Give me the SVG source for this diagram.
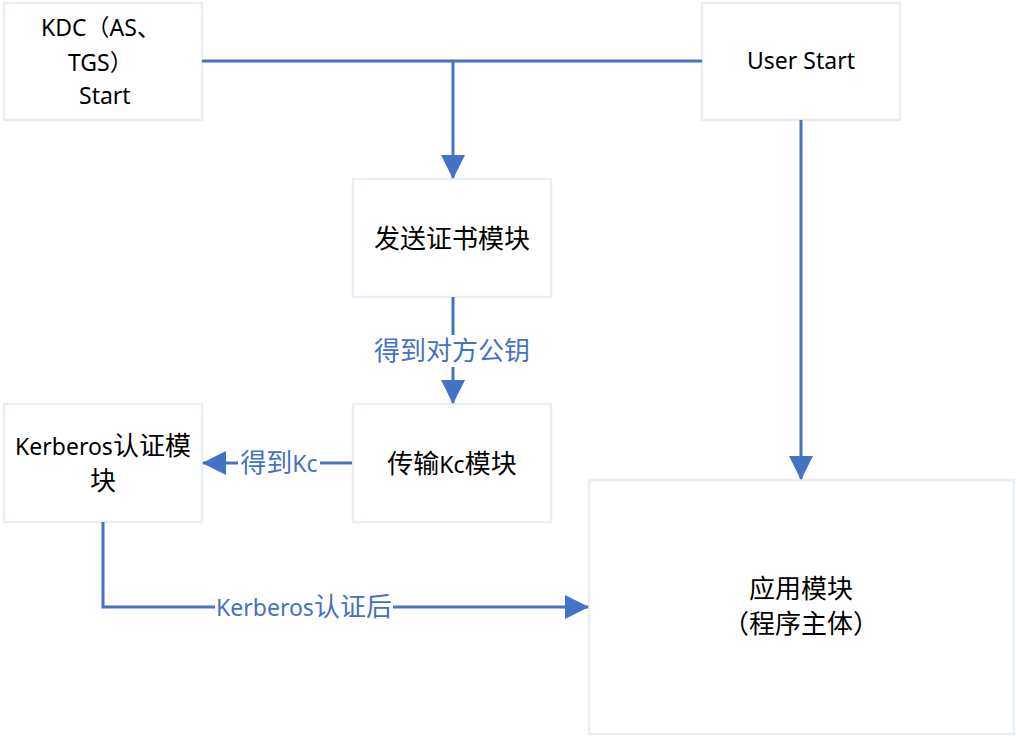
<svg xmlns="http://www.w3.org/2000/svg" width="1016" height="736" viewBox="0 0 1016 736">
<style>
.box{fill:#fff;stroke:#E9EDF6;stroke-width:2.5}
.t{font-family:"Noto Sans","Noto Sans CJK SC",sans-serif;font-size:23px;fill:#000;text-anchor:middle}
.s{text-anchor:start}
.lbl{font-family:"Noto Sans","Noto Sans CJK SC",sans-serif;font-size:23px;fill:#4472C4;text-anchor:middle}
.z{font-family:"Noto Sans CJK SC",sans-serif;font-size:26px}
.c{fill:none;stroke:#4472C4;stroke-width:3}
.bg{fill:#fff}
</style>
<defs>
<marker id="ah" markerUnits="userSpaceOnUse" markerWidth="24" markerHeight="24" viewBox="0 0 24 24" refX="23" refY="12" orient="auto">
<path d="M0,0 L24,12 L0,24 Z" fill="#4472C4"/>
</marker>
</defs>
<rect width="1016" height="736" fill="#fff"/>
<g id="kdc"><rect class="box" x="4" y="3" width="198" height="117"/>
<text class="t s" x="41" y="36">KDC<tspan font-family="Noto Sans CJK SC, sans-serif">（</tspan>AS<tspan font-family="Noto Sans CJK SC, sans-serif">、</tspan></text>
<text class="t s" x="68" y="71">TGS<tspan font-family="Noto Sans CJK SC, sans-serif">）</tspan></text>
<text class="t s" x="79" y="104">Start</text></g>
<g id="user"><rect class="box" x="702" y="3" width="198" height="117"/>
<text class="t" x="801" y="69">User Start</text></g>
<g id="send"><rect class="box" x="353" y="179" width="198" height="118"/>
<text class="t z" x="452" y="248">发送证书模块</text></g>
<g id="kerb"><rect class="box" x="4" y="404" width="198" height="118"/>
<text class="t" x="103" y="455">Kerberos<tspan class="z">认证模</tspan></text>
<text class="t z" x="103" y="490">块</text></g>
<g id="trans"><rect class="box" x="353" y="404" width="198" height="118"/>
<text class="t" x="452" y="473"><tspan class="z">传输</tspan>Kc<tspan class="z">模块</tspan></text></g>
<g id="app"><rect class="box" x="589" y="480" width="425" height="254"/>
<text class="t z" x="801" y="598">应用模块</text>
<text class="t z" x="801" y="633">（程序主体）</text></g>
<g id="connectors">
<path class="c" d="M202,61 H702"/>
<path class="c" d="M453,61 V178" marker-end="url(#ah)"/>
<path class="c" d="M453,297 V403" marker-end="url(#ah)"/>
<rect class="bg" x="372" y="335" width="162" height="32"/>
<text class="lbl z" x="452" y="360">得到对方公钥</text>
<path class="c" d="M352,463 H203" marker-end="url(#ah)"/>
<rect class="bg" x="238" y="448" width="82" height="30"/>
<text class="lbl" x="279" y="472"><tspan class="z">得到</tspan>Kc</text>
<path class="c" d="M103,522 V607 H588" marker-end="url(#ah)"/>
<rect class="bg" x="215" y="592" width="178" height="30"/>
<text class="lbl" x="304" y="616">Kerberos<tspan class="z">认证后</tspan></text>
<path class="c" d="M801,120 V479" marker-end="url(#ah)"/>
</g>
</svg>
